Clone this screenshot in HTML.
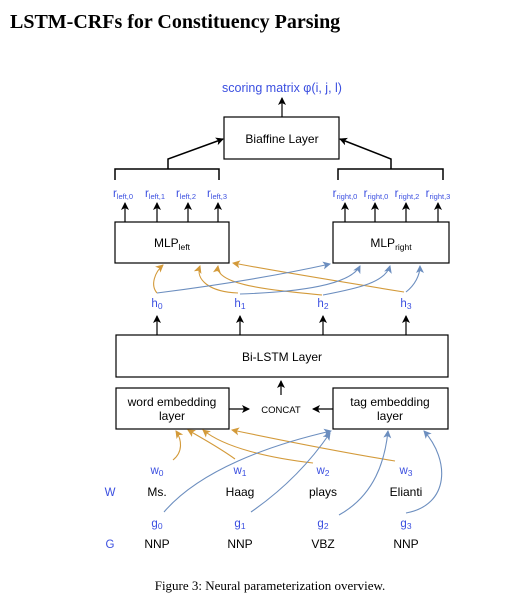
<!DOCTYPE html>
<html><head><meta charset="utf-8"><style>
body{margin:0;width:514px;height:599px;background:#fff;overflow:hidden}
</style></head><body>
<svg width="514" height="599" xmlns="http://www.w3.org/2000/svg" font-family="Liberation Sans, sans-serif">
<defs>
<marker id="ak" markerWidth="8" markerHeight="8" refX="7" refY="4" orient="auto" markerUnits="userSpaceOnUse"><path d="M0,0 L8,4 L0,8 L2,4 z" fill="#000"/></marker>
<marker id="ao" markerWidth="8" markerHeight="8" refX="7" refY="4" orient="auto" markerUnits="userSpaceOnUse"><path d="M0,0 L8,4 L0,8 L2,4 z" fill="#d39a3a"/></marker>
<marker id="ab" markerWidth="8" markerHeight="8" refX="7" refY="4" orient="auto" markerUnits="userSpaceOnUse"><path d="M0,0 L8,4 L0,8 L2,4 z" fill="#6c8ebf"/></marker>
</defs>
<text x="10" y="28" font-family="Liberation Serif, serif" font-weight="bold" font-size="20">LSTM-CRFs for Constituency Parsing</text>
<text x="282" y="92" text-anchor="middle" font-size="12.5" fill="#3b4fe0">scoring matrix φ(i, j, l)</text>
<g stroke="#000" fill="none" stroke-width="1.2">
<line x1="282" y1="117" x2="282" y2="98" marker-end="url(#ak)"/>
<rect x="224" y="117" width="115" height="42" fill="#fff"/>
<path d="M115,180 V169 H219 V180 M168,169 V159 L223,139" marker-end="url(#ak)" stroke-width="1.5"/>
<path d="M338,180 V169 H443 V180 M391,169 V159 L340,139" marker-end="url(#ak)" stroke-width="1.5"/>
<rect x="115" y="222" width="114" height="41" fill="#fff"/>
<rect x="333" y="222" width="116" height="41" fill="#fff"/>
<line x1="125" y1="222" x2="125" y2="203" marker-end="url(#ak)"/>
<line x1="157" y1="222" x2="157" y2="203" marker-end="url(#ak)"/>
<line x1="188" y1="222" x2="188" y2="203" marker-end="url(#ak)"/>
<line x1="218" y1="222" x2="218" y2="203" marker-end="url(#ak)"/>
<line x1="345" y1="222" x2="345" y2="203" marker-end="url(#ak)"/>
<line x1="375" y1="222" x2="375" y2="203" marker-end="url(#ak)"/>
<line x1="406" y1="222" x2="406" y2="203" marker-end="url(#ak)"/>
<line x1="438" y1="222" x2="438" y2="203" marker-end="url(#ak)"/>
<rect x="116" y="335" width="332" height="42" fill="#fff"/>
<line x1="157" y1="335" x2="157" y2="316" marker-end="url(#ak)"/>
<line x1="240" y1="335" x2="240" y2="316" marker-end="url(#ak)"/>
<line x1="323" y1="335" x2="323" y2="316" marker-end="url(#ak)"/>
<line x1="406" y1="335" x2="406" y2="316" marker-end="url(#ak)"/>
<rect x="116" y="388" width="113" height="41" fill="#fff"/>
<rect x="333" y="388" width="115" height="41" fill="#fff"/>
<line x1="281" y1="395" x2="281" y2="381" marker-end="url(#ak)"/>
<line x1="229" y1="409" x2="249" y2="409" marker-end="url(#ak)"/>
<line x1="333" y1="409" x2="313" y2="409" marker-end="url(#ak)"/>
</g>
<g font-size="12" text-anchor="middle">
<text x="282" y="143">Biaffine Layer</text>
<text x="172" y="247">MLP<tspan font-size="8.5" dy="3">left</tspan></text>
<text x="391" y="247">MLP<tspan font-size="8.5" dy="3">right</tspan></text>
<text x="282" y="361">Bi-LSTM Layer</text>
<text x="172" y="406">word embedding</text><text x="172" y="420">layer</text>
<text x="390" y="406">tag embedding</text><text x="390" y="420">layer</text>
<text x="281" y="413" font-size="9.5">CONCAT</text>
<text x="157" y="496">Ms.</text><text x="240" y="496">Haag</text><text x="323" y="496">plays</text><text x="406" y="496">Elianti</text>
<text x="157" y="548">NNP</text><text x="240" y="548">NNP</text><text x="323" y="548">VBZ</text><text x="406" y="548">NNP</text>
</g>
<g font-size="11.5" fill="#3b4fe0" text-anchor="middle">
<text x="123" y="197">r<tspan font-size="7.5" dy="2">left,0</tspan></text>
<text x="155" y="197">r<tspan font-size="7.5" dy="2">left,1</tspan></text>
<text x="186" y="197">r<tspan font-size="7.5" dy="2">left,2</tspan></text>
<text x="217" y="197">r<tspan font-size="7.5" dy="2">left,3</tspan></text>
<text x="345" y="197">r<tspan font-size="7.5" dy="2">right,0</tspan></text>
<text x="376" y="197">r<tspan font-size="7.5" dy="2">right,0</tspan></text>
<text x="407" y="197">r<tspan font-size="7.5" dy="2">right,2</tspan></text>
<text x="438" y="197">r<tspan font-size="7.5" dy="2">right,3</tspan></text>
<text x="157" y="307">h<tspan font-size="8.5" dy="2">0</tspan></text>
<text x="240" y="307">h<tspan font-size="8.5" dy="2">1</tspan></text>
<text x="323" y="307">h<tspan font-size="8.5" dy="2">2</tspan></text>
<text x="406" y="307">h<tspan font-size="8.5" dy="2">3</tspan></text>
<text x="157" y="474">w<tspan font-size="8.5" dy="2">0</tspan></text>
<text x="240" y="474">w<tspan font-size="8.5" dy="2">1</tspan></text>
<text x="323" y="474">w<tspan font-size="8.5" dy="2">2</tspan></text>
<text x="406" y="474">w<tspan font-size="8.5" dy="2">3</tspan></text>
<text x="157" y="527">g<tspan font-size="8.5" dy="2">0</tspan></text>
<text x="240" y="527">g<tspan font-size="8.5" dy="2">1</tspan></text>
<text x="323" y="527">g<tspan font-size="8.5" dy="2">2</tspan></text>
<text x="406" y="527">g<tspan font-size="8.5" dy="2">3</tspan></text>
<text x="110" y="496">W</text>
<text x="110" y="548">G</text>
</g>
<g fill="none" stroke="#d39a3a" stroke-width="1.1">
<path d="M157,293 C150,285 155,272 163,265" marker-end="url(#ao)"/>
<path d="M238,293 C210,292 195,280 200,266" marker-end="url(#ao)"/>
<path d="M322,295 C270,290 215,285 218,266" marker-end="url(#ao)"/>
<path d="M404,292 C330,280 270,270 233,263" marker-end="url(#ao)"/>
<path d="M173,460 C183,452 182,440 176,431" marker-end="url(#ao)"/>
<path d="M235,459 C220,448 205,440 188,430" marker-end="url(#ao)"/>
<path d="M313,463 C270,458 225,448 203,430" marker-end="url(#ao)"/>
<path d="M395,461 C340,452 280,440 232,430" marker-end="url(#ao)"/>
</g>
<g fill="none" stroke="#6c8ebf" stroke-width="1.1">
<path d="M157,293 C220,285 280,275 330,264" marker-end="url(#ab)"/>
<path d="M240,294 C300,292 350,285 360,266" marker-end="url(#ab)"/>
<path d="M323,295 C360,288 385,282 390,266" marker-end="url(#ab)"/>
<path d="M406,292 C415,285 420,275 420,266" marker-end="url(#ab)"/>
<path d="M164,512 C200,470 270,445 331,431" marker-end="url(#ab)"/>
<path d="M251,512 C290,485 315,455 330,433" marker-end="url(#ab)"/>
<path d="M339,515 C375,495 385,460 388,431" marker-end="url(#ab)"/>
<path d="M406,513 C450,505 450,460 424,431" marker-end="url(#ab)"/>
</g>
<text x="270" y="590" text-anchor="middle" font-family="Liberation Serif, serif" font-size="13">Figure 3: Neural parameterization overview.</text>
</svg>
</body></html>
